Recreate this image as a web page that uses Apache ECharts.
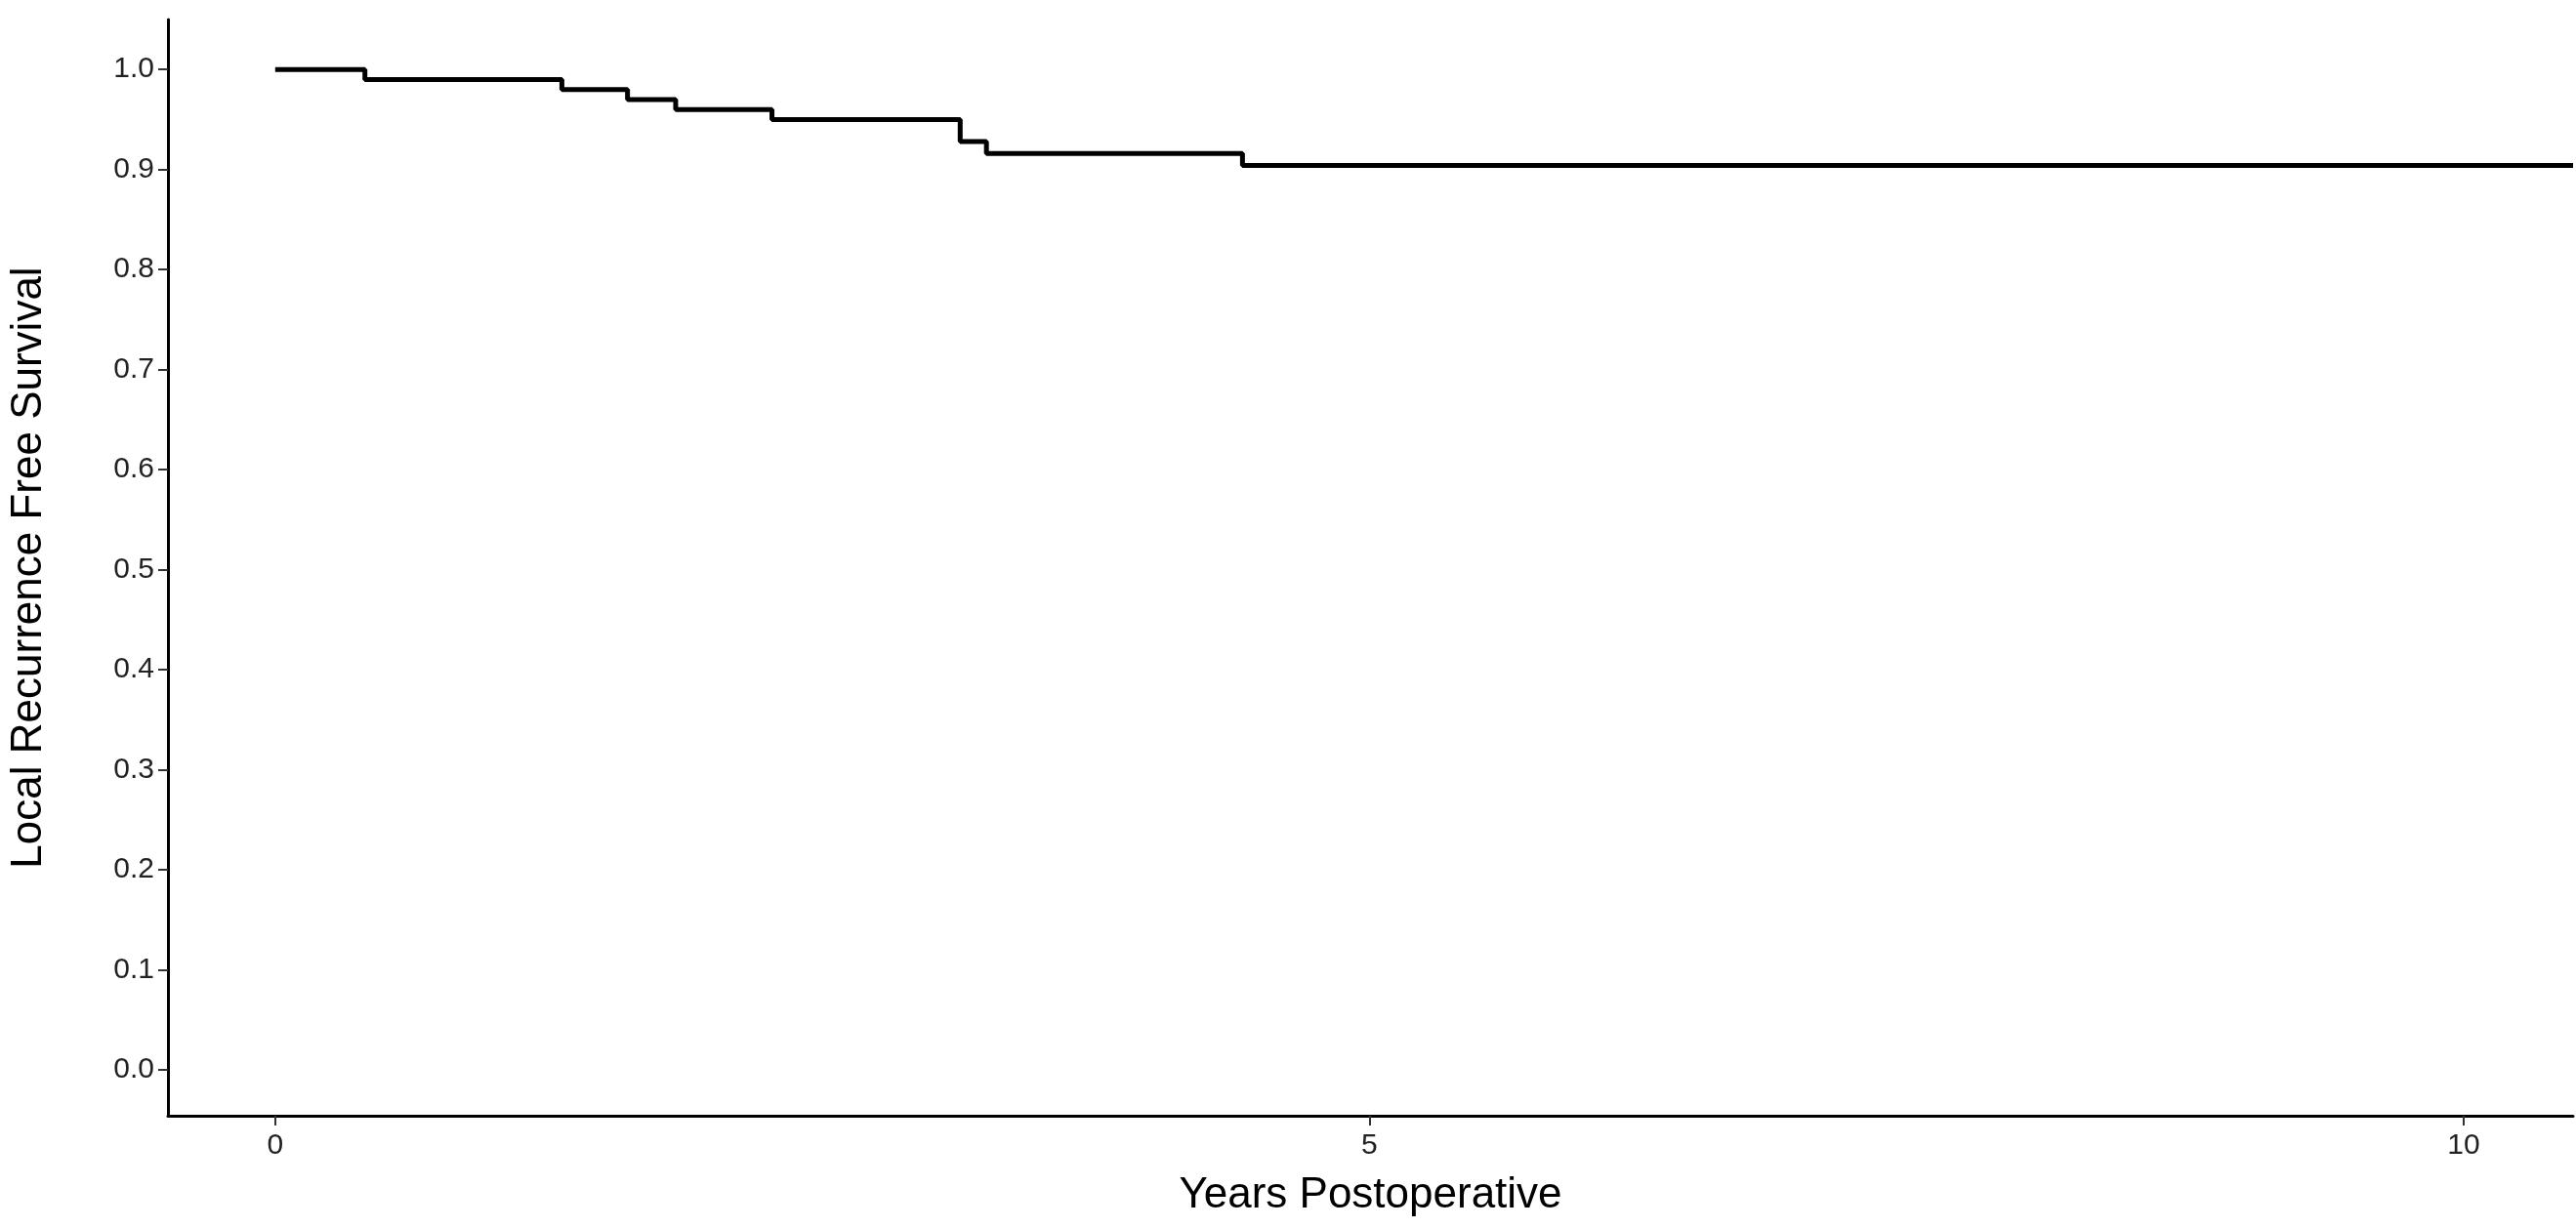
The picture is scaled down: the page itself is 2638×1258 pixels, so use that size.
<!DOCTYPE html><html><head><meta charset="utf-8"><script src="https://cdn.jsdelivr.net/npm/echarts@6/dist/echarts.min.js"></script>
<style>html,body{margin:0;padding:0;background:#fff}#c{width:2638px;height:1258px}</style></head><body><div id="c"></div><script>
const times=[0,0.41,1.31,1.61,1.83,2.27,3.13,3.25,4.42,10.5];
const survival=[1.0,0.99,0.98,0.97,0.96,0.95,0.928,0.916,0.904,0.904];
const yTicks=[0,0.1,0.2,0.3,0.4,0.5,0.6,0.7,0.8,0.9,1.0];
const xTicks=[0,5,10];
const ch=echarts.init(document.getElementById('c'));
const font='Liberation Sans';
ch.setOption({animation:false,
grid:{left:166,right:3,top:20,bottom:115},
xAxis:{type:'value',min:-0.49,max:10.5,interval:5,name:'Years Postoperative',nameLocation:'middle',nameGap:60,
 nameTextStyle:{fontFamily:font,fontSize:44,color:'#000'},
 axisLine:{onZero:false,lineStyle:{color:'#000',width:3}},axisTick:{show:true,length:10,lineStyle:{color:'#333',width:2},customValues:xTicks},
 axisLabel:{fontFamily:font,fontSize:30,color:'#222',margin:16,customValues:xTicks,formatter:v=>String(v)},splitLine:{show:false}},
yAxis:{type:'value',min:-0.046,max:1.05,name:'Local Recurrence Free Survival',nameLocation:'middle',nameGap:120,
 nameTextStyle:{fontFamily:font,fontSize:44,color:'#000'},
 axisLine:{onZero:false,lineStyle:{color:'#000',width:3}},axisTick:{show:true,length:10,lineStyle:{color:'#333',width:2},customValues:yTicks},
 axisLabel:{fontFamily:font,fontSize:30,color:'#222',margin:14,customValues:yTicks,formatter:v=>v.toFixed(1)},splitLine:{show:false}},
series:[{type:'line',step:'end',symbol:'none',data:times.map((t,i)=>[t,survival[i]]),lineStyle:{color:'#000',width:5}}]
});
</script></body></html>
